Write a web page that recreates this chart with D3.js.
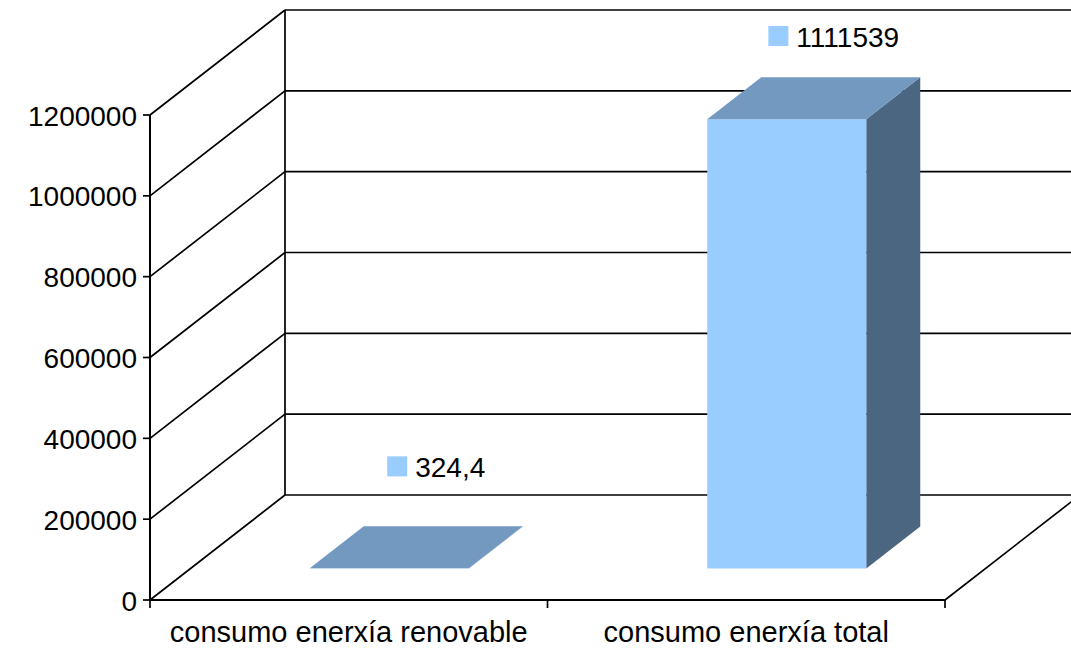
<!DOCTYPE html>
<html>
<head>
<meta charset="utf-8">
<script src="https://cdn.jsdelivr.net/npm/d3@7"></script>
<style>
  html, body { margin: 0; padding: 0; background: #fff; }
  svg { display: block; font-family: "Liberation Sans", Arial, sans-serif; }
</style>
</head>
<body>
<svg id="chart" width="1071" height="649"></svg>
<script>
// Energy consumption: renewable vs total
const categories = ["consumo enerxía renovable", "consumo enerxía total"];
const values = [324.4, 1111539];
const valueLabels = ["324,4", "1111539"];
const yTicks = [0, 200000, 400000, 600000, 800000, 1000000, 1200000];

const W = 1071, H = 649;
const svg = d3.select("#chart");

// Front plane of the 3D box
const x0 = 150, x1 = 945;
const y = d3.scaleLinear().domain([0, 1200000]).range([600, 115]);
const x = d3.scaleBand().domain(categories).range([x0, x1]).paddingInner(0).paddingOuter(0);

// Depth offset of the whole box (front -> back wall)
const depth = { dx: 135, dy: -105 };
const proj = (px, py, d) => [px + depth.dx * d, py + depth.dy * d];

const stroke = "#000";
const g = svg.append("g");

// Back wall gridlines
yTicks.forEach(t => {
  const a = proj(x0, y(t), 1), b = proj(x1, y(t), 1);
  g.append("line").attr("x1", a[0]).attr("y1", a[1]).attr("x2", b[0]).attr("y2", b[1])
    .attr("stroke", stroke).attr("stroke-width", 1.7);
});
// Back wall left edge
{
  const a = proj(x0, y(0), 1), b = proj(x0, y(1200000), 1);
  g.append("line").attr("x1", a[0]).attr("y1", a[1]).attr("x2", b[0]).attr("y2", b[1])
    .attr("stroke", stroke).attr("stroke-width", 1.7);
}
// Side wall diagonals
yTicks.forEach(t => {
  const a = proj(x0, y(t), 0), b = proj(x0, y(t), 1);
  g.append("line").attr("x1", a[0]).attr("y1", a[1]).attr("x2", b[0]).attr("y2", b[1])
    .attr("stroke", stroke).attr("stroke-width", 1.7);
});
// Floor right diagonal
{
  const a = proj(x1, y(0), 0), b = proj(x1, y(0), 1);
  g.append("line").attr("x1", a[0]).attr("y1", a[1]).attr("x2", b[0]).attr("y2", b[1])
    .attr("stroke", stroke).attr("stroke-width", 1.7);
}

// Bars: occupy depth 0.3 .. 0.7 and the middle 40% of each band
const dFront = 0.3, dBack = 0.7;
const barFrac = 0.4;
const colFront = "#99ccff", colTop = "#7399c0", colSide = "#4b6680";

categories.forEach((c, i) => {
  const bw = x.bandwidth() * barFrac;
  const bx = x(c) + (x.bandwidth() - bw) / 2;
  const yTop = y(values[i]), yBot = y(0);
  const fl = proj(bx, yTop, dFront), fr = proj(bx + bw, yTop, dFront);
  const flb = proj(bx, yBot, dFront), frb = proj(bx + bw, yBot, dFront);
  const bl = proj(bx, yTop, dBack), br = proj(bx + bw, yTop, dBack);
  const brb = proj(bx + bw, yBot, dBack);
  const poly = pts => pts.map(p => p.join(",")).join(" ");
  // side
  g.append("polygon").attr("points", poly([fr, br, brb, frb])).attr("fill", colSide);
  // front
  g.append("polygon").attr("points", poly([fl, fr, frb, flb])).attr("fill", colFront);
  // top
  g.append("polygon").attr("points", poly([fl, bl, br, fr])).attr("fill", colTop);

  // value label with legend key, placed above the back of the column
  const cx = (bl[0] + br[0]) / 2 - 7;
  const cy = Math.max(36, bl[1] - 60);
  const lab = g.append("g");
  const txt = lab.append("text").attr("x", 0).attr("y", 0)
    .attr("font-size", 28).attr("dominant-baseline", "central").attr("fill", "#000")
    .text(valueLabels[i]);
  const tw = txt.node().getComputedTextLength();
  const keyW = 20, gap = 8;
  const total = keyW + gap + tw;
  const left = cx - total / 2;
  lab.append("rect").attr("x", left).attr("y", cy - 10).attr("width", keyW).attr("height", 20)
    .attr("fill", colFront);
  txt.attr("x", left + keyW + gap).attr("y", cy + 1);
});

// Front plane: value axis and floor front edge
g.append("line").attr("x1", x0).attr("y1", y(0)).attr("x2", x0).attr("y2", y(1200000))
  .attr("stroke", stroke).attr("stroke-width", 2);
g.append("line").attr("x1", x0).attr("y1", y(0)).attr("x2", x1).attr("y2", y(0))
  .attr("stroke", stroke).attr("stroke-width", 2.2);

// Y axis ticks and labels
yTicks.forEach(t => {
  g.append("line").attr("x1", x0 - 7).attr("y1", y(t)).attr("x2", x0).attr("y2", y(t))
    .attr("stroke", stroke).attr("stroke-width", 1.7);
  g.append("text").attr("x", x0 - 13).attr("y", y(t) + 1).attr("text-anchor", "end")
    .attr("dominant-baseline", "central").attr("font-size", 28).attr("fill", "#000")
    .text(d3.format("d")(t));
});

// Category ticks and labels
[x0, ...categories.map(c => x(c) + x.bandwidth())].forEach(px => {
  g.append("line").attr("x1", px).attr("y1", y(0)).attr("x2", px).attr("y2", y(0) + 8)
    .attr("stroke", stroke).attr("stroke-width", 1.7);
});
categories.forEach(c => {
  g.append("text").attr("x", x(c) + x.bandwidth() / 2).attr("y", 642)
    .attr("text-anchor", "middle").attr("font-size", 29).attr("fill", "#000").text(c);
});
</script>
</body>
</html>
